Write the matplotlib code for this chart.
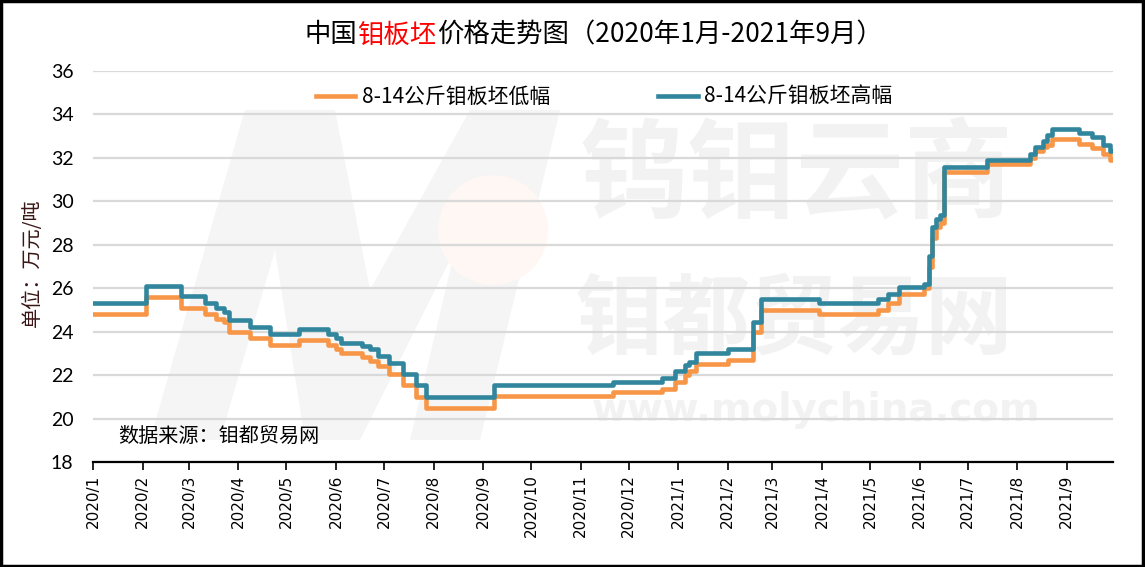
import matplotlib
matplotlib.use("Agg")
import numpy as np
import pandas as pd
from matplotlib import pyplot as plt
from matplotlib.patches import Rectangle, Ellipse, Polygon

plt.rcParams['font.family'] = ['Noto Sans CJK SC', 'DejaVu Sans']

# 价格变动日期（阶梯数据，每个值保持到下一个日期）
DATES = ["2020-01-01", "2020-02-03", "2020-02-25", "2020-03-11", "2020-03-18",
         "2020-03-23", "2020-03-26", "2020-04-08", "2020-04-21", "2020-05-09",
         "2020-05-27", "2020-06-01", "2020-06-04", "2020-06-17", "2020-06-22",
         "2020-06-27", "2020-07-04", "2020-07-13", "2020-07-21", "2020-07-27",
         "2020-09-08", "2020-11-21", "2020-12-22", "2020-12-30", "2021-01-05",
         "2021-01-08", "2021-01-12", "2021-02-01", "2021-02-17", "2021-02-22",
         "2021-03-30", "2021-05-06", "2021-05-12", "2021-05-19", "2021-06-04",
         "2021-06-07", "2021-06-09", "2021-06-11", "2021-06-14", "2021-06-16",
         "2021-07-13", "2021-08-09", "2021-08-12", "2021-08-17", "2021-08-20",
         "2021-08-23", "2021-09-09", "2021-09-17", "2021-09-24", "2021-09-28",
         "2021-09-30"]

# 8-14公斤钼板坯低幅（万元/吨）
LOW = [24.8, 25.6, 25.1, 24.8, 24.6, 24.45, 24.0, 23.7, 23.4, 23.6,
       23.4, 23.2, 23.0, 22.85, 22.65, 22.4, 22.05, 21.55, 21.0, 20.5,
       21.05, 21.2, 21.35, 21.7, 22.0, 22.2, 22.5, 22.7, 24.0, 25.0,
       24.8, 25.0, 25.3, 25.75, 26.0, 27.0, 28.3, 28.8, 29.0, 31.35,
       31.7, 32.0, 32.3, 32.5, 32.6, 32.85, 32.65, 32.45, 32.2, 31.9,
       31.9]

# 8-14公斤钼板坯高幅（万元/吨）
HIGH = [25.3, 26.1, 25.65, 25.3, 25.1, 24.9, 24.55, 24.2, 23.9, 24.1,
        23.9, 23.7, 23.5, 23.35, 23.2, 22.9, 22.55, 22.05, 21.55, 21.0,
        21.55, 21.7, 21.85, 22.2, 22.45, 22.6, 23.0, 23.2, 24.45, 25.5,
        25.3, 25.5, 25.75, 26.05, 26.2, 27.5, 28.8, 29.2, 29.35, 31.6,
        31.9, 32.2, 32.5, 32.8, 33.05, 33.35, 33.15, 32.95, 32.6, 32.3,
        32.3]

MONTH_TICKS = pd.date_range("2020-01-01", "2021-09-01", freq="MS")
TICK_LABELS = [f"{d.year}/{d.month}" for d in MONTH_TICKS]

ORANGE = "#F79646"
TEAL = "#31859C"

W, H = 1145, 567
fig = plt.figure(figsize=(W / 100, H / 100), dpi=100)
ax = fig.add_axes([93 / W, 105 / H, 1020 / W, 391 / H])
ax.set_facecolor("none")


def px(x, y):
    return (x / W, 1 - y / H)


# 背景水印
wm = "#f2f2f2"
fig.text(*px(580, 178), "钨钼云商", fontsize=78, color=wm, fontweight="bold", zorder=-1, va="center")
fig.text(*px(575, 322), "钼都贸易网", fontsize=63, color=wm, fontweight="bold", zorder=-1, va="center")
fig.text(*px(592, 410), "www.molychina.com", fontsize=28, color=wm, fontweight="bold",
         family="DejaVu Sans", zorder=-1, va="center")
m_shape = [(150, 440), (245, 110), (335, 110), (370, 290), (470, 110), (560, 110),
           (480, 440), (410, 440), (455, 250), (360, 440), (305, 440), (275, 250), (220, 440)]
fig.patches.append(Polygon([px(x, y) for x, y in m_shape], closed=True, transform=fig.transFigure,
                           facecolor="#f5f5f5", edgecolor="none", zorder=-3))
fig.patches.append(Ellipse(px(493, 230), 110 / W, 110 / H, transform=fig.transFigure,
                           facecolor="#fef7f3", edgecolor="none", zorder=-2))

dates = pd.to_datetime(DATES)
ax.step(dates, LOW, where="post", color=ORANGE, lw=3.3, label="8-14公斤钼板坯低幅", zorder=3)
ax.step(dates, HIGH, where="post", color=TEAL, lw=3.3, label="8-14公斤钼板坯高幅", zorder=4)

ax.set_ylim(18, 36)
ax.set_yticks(np.arange(18, 37, 2))
ax.set_xlim(pd.Timestamp("2020-01-01"), pd.Timestamp("2021-09-30"))
ax.set_xticks(MONTH_TICKS)
ax.set_xticklabels(TICK_LABELS, rotation=90, family="DejaVu Sans", fontsize=11)
ax.tick_params(axis="x", direction="out", length=6, width=1.2, pad=3)
ax.tick_params(axis="y", length=0, pad=14, labelsize=14)
for lab in ax.get_yticklabels():
    lab.set_family(["Lato", "DejaVu Sans"])

ax.grid(axis="y", color="#d9d9d9", lw=1.6, zorder=1)
for s in ("left", "right", "top"):
    ax.spines[s].set_visible(False)
ax.spines["bottom"].set_linewidth(1.6)
ax.spines["bottom"].set_zorder(5)

ax.set_ylabel("单位：万元/吨", fontsize=14.5, color="#3a1515")
ax.yaxis.set_label_coords(-0.049, 0.51)

fig.text(*px(118, 436), "数据来源：钼都贸易网", fontsize=14.5, va="center", ha="left")

ax.legend(loc="center", bbox_to_anchor=px(604, 97),
          bbox_transform=fig.transFigure, ncol=2, frameon=False, fontsize=15,
          handlelength=1.9, handletextpad=0.3, columnspacing=5.2)

# 标题（中间三个字为红色）
ty = px(0, 35)[1]
fs = 19
t1 = fig.text(0.26, ty, "中国", fontsize=fs, va="center")
t2 = ax.annotate("钼板坯", xy=(1, 0), xycoords=t1, va="bottom", fontsize=fs, color="red")
t3 = ax.annotate("价格走势图（2020年1月-2021年9月）", xy=(1, 0), xycoords=t2,
                 va="bottom", fontsize=fs)
fig.canvas.draw()
r = fig.canvas.get_renderer()
x0 = t1.get_window_extent(r).x0
x1 = t3.get_window_extent(r).x1
t1.set_x(0.26 + (593.5 - (x0 + x1) / 2) / W)

fig.patches.append(Rectangle((0.001, 0.002), 0.997, 0.996, transform=fig.transFigure,
                             fill=False, edgecolor="black", lw=2.5, zorder=10))

fig.savefig("out.png", dpi=100)
